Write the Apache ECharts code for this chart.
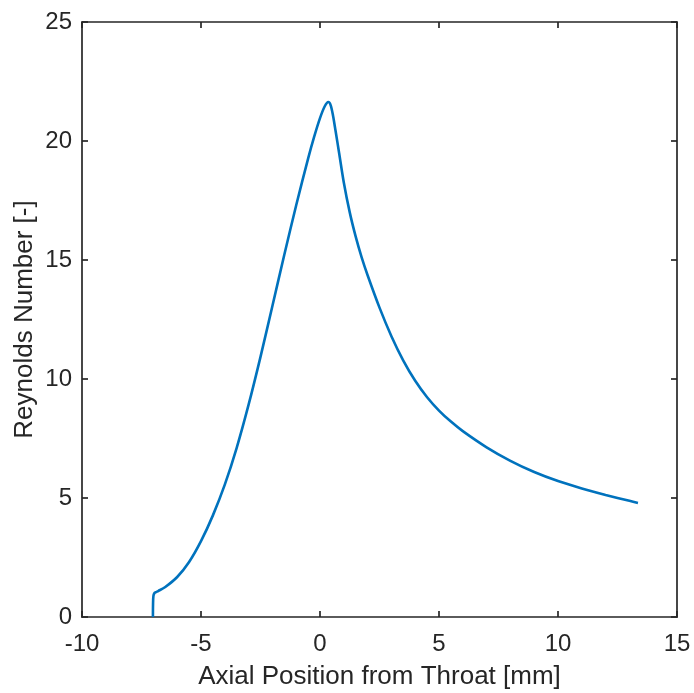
<!DOCTYPE html>
<html>
<head>
<meta charset="utf-8">
<script src="https://cdn.jsdelivr.net/npm/echarts@6/dist/echarts.min.js"></script>
<style>
html,body{margin:0;padding:0;background:#fff;}
#chart{width:694px;height:693px;}
</style>
</head>
<body>
<div id="chart"></div>
<script>
// Axial position (mm)
var xPos = [-7.02, -7.015, -7.0, -6.96, -6.9, -6.8, -6.5, -6.0, -5.5, -5.0, -4.5, -4.0, -3.5, -3.0, -2.5, -2.0, -1.5, -1.0, -0.5, -0.25, 0.0, 0.2, 0.35, 0.45, 0.55, 0.65, 0.8, 1.0, 1.25, 1.5, 1.75, 2.0, 2.5, 3.0, 3.5, 4.0, 4.5, 5.0, 5.5, 6.0, 7.0, 8.0, 9.0, 10.0, 11.0, 12.0, 13.0, 13.36];
// Reynolds number
var reVals = [0, 0.55, 0.88, 1.0, 1.04, 1.09, 1.26, 1.68, 2.31, 3.185, 4.27, 5.56, 7.11, 8.92, 10.93, 13.07, 15.22, 17.30, 19.26, 20.16, 20.96, 21.46, 21.64, 21.5, 21.05, 20.45, 19.52, 18.26, 17.0, 15.98, 15.11, 14.36, 13.0, 11.8, 10.775, 9.925, 9.235, 8.675, 8.21, 7.81, 7.13, 6.56, 6.09, 5.71, 5.40, 5.13, 4.88, 4.79];
var xTicks = [-10, -5, 0, 5, 10, 15];
var yTicks = [0, 5, 10, 15, 20, 25];
var xTitle = 'Axial Position from Throat [mm]';
var yTitle = 'Reynolds Number [-]';

var pts = xPos.map(function (x, i) { return [x, reVals[i]]; });
var axisColor = '#262626';
var font = 'Liberation Sans, Arial, sans-serif';

var chart = echarts.init(document.getElementById('chart'));
chart.setOption({
  backgroundColor: '#fff',
  animation: false,
  grid: { left: 82, right: 17, top: 22, bottom: 76, containLabel: false, outerBoundsMode: 'none' },
  xAxis: [{
    type: 'value', min: xTicks[0], max: xTicks[xTicks.length - 1], interval: 5,
    position: 'bottom',
    name: xTitle, nameLocation: 'middle', nameGap: 47,
    nameTextStyle: { fontFamily: font, fontSize: 26, color: axisColor },
    axisLine: { show: true, onZero: false, lineStyle: { color: axisColor, width: 1.7 } },
    axisTick: { show: true, inside: true, length: 6, lineStyle: { color: axisColor, width: 1.7 } },
    axisLabel: { fontFamily: font, fontSize: 24, color: axisColor, margin: 15 },
    splitLine: { show: false }
  }, {
    type: 'value', min: xTicks[0], max: xTicks[xTicks.length - 1], interval: 5,
    position: 'top',
    axisLine: { show: true, onZero: false, lineStyle: { color: axisColor, width: 1.7 } },
    axisTick: { show: true, inside: true, length: 6, lineStyle: { color: axisColor, width: 1.7 } },
    axisLabel: { show: false },
    splitLine: { show: false }
  }],
  yAxis: [{
    type: 'value', min: yTicks[0], max: yTicks[yTicks.length - 1], interval: 5,
    position: 'left',
    name: yTitle, nameLocation: 'middle', nameGap: 44, nameMoveOverlap: false,
    nameTextStyle: { fontFamily: font, fontSize: 26, color: axisColor },
    axisLine: { show: true, onZero: false, lineStyle: { color: axisColor, width: 1.7 } },
    axisTick: { show: true, inside: true, length: 6, lineStyle: { color: axisColor, width: 1.7 } },
    axisLabel: { fontFamily: font, fontSize: 24, color: axisColor, margin: 10 },
    splitLine: { show: false }
  }, {
    type: 'value', min: yTicks[0], max: yTicks[yTicks.length - 1], interval: 5,
    position: 'right',
    axisLine: { show: true, onZero: false, lineStyle: { color: axisColor, width: 1.7 } },
    axisTick: { show: true, inside: true, length: 6, lineStyle: { color: axisColor, width: 1.7 } },
    axisLabel: { show: false },
    splitLine: { show: false }
  }],
  series: [{
    type: 'line',
    data: pts,
    xAxisIndex: 0, yAxisIndex: 0,
    showSymbol: false,
    smooth: 0.3,
    lineStyle: { color: '#0072BD', width: 2.6 },
    clip: false
  }]
});
</script>
</body>
</html>
